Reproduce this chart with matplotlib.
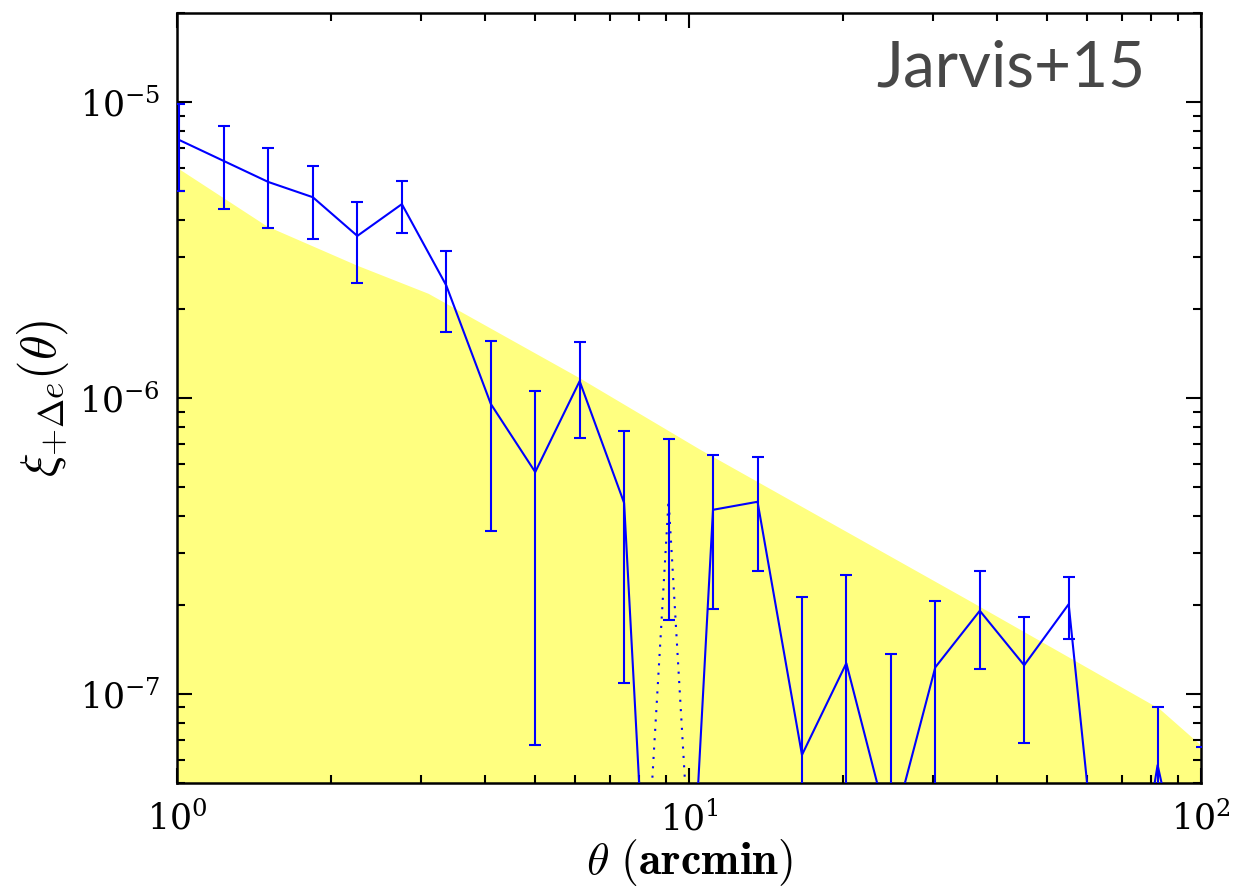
import numpy as np
import matplotlib
matplotlib.use("Agg")
import matplotlib.pyplot as plt

plt.rcParams['mathtext.fontset'] = 'cm'
plt.rcParams['font.family'] = ['DejaVu Serif']

# ---- data ----
theta = [1.011, 1.235, 1.508, 1.842, 2.250, 2.749, 3.357, 4.101, 5.008, 6.115,
         7.469, 9.123, 11.14, 13.61, 16.62, 20.29, 24.79, 30.27, 36.98, 45.15,
         55.15, 67.36, 82.27, 100.5]
xi_plus = [7.44e-6, 6.32e-6, 5.37e-6, 4.77e-6, 3.53e-6, 4.52e-6, 2.40e-6, 9.55e-7,
           5.62e-7, 1.14e-6, 4.42e-7, -4.52e-7, 4.19e-7, 4.46e-7, 6.22e-8, 1.27e-7,
           3.3e-8, 1.23e-7, 1.91e-7, 1.25e-7, 2.01e-7, 7e-9, 5.75e-8, 1.2e-8]
sigma = [2.42e-6, 1.97e-6, 1.63e-6, 1.33e-6, 1.08e-6, 0.90e-6, 0.73e-6, 0.60e-6,
         0.495e-6, 0.405e-6, 3.33e-7, 2.74e-7, 2.25e-7, 1.85e-7, 1.5e-7, 1.25e-7,
         1.03e-7, 0.83e-7, 0.70e-7, 0.57e-7, 0.48e-7, 3e-8, 3.25e-8, 5.4e-8]

# requirement region (yellow)
req_theta = [1.0, 1.5, 2.25, 3.1, 6.1, 10.5, 35.0, 83.0, 100.0]
req_xi = [6.0e-6, 3.8e-6, 2.8e-6, 2.25e-6, 1.17e-6, 6.7e-7, 2.08e-7, 8.9e-8, 6.7e-8]

label_text = "Jarvis+15"

# ---- plotting ----
theta_a = np.array(theta)
xi_a = np.array(xi_plus)
sig_a = np.array(sigma)

solid = np.where(xi_a > 0, xi_a, 7e-10)
dotted = np.where(xi_a < 0, -xi_a, 1.2e-9)

fig = plt.figure(figsize=(12.33, 8.89), dpi=100)
ax = fig.add_axes([177/1233, 1-783/889, (1201-177)/1233, (783-13)/889])
ax.set_xscale('log')
ax.set_yscale('log')

ax.fill_between(req_theta, 1e-10, req_xi, color=(1.0, 1.0, 0.5), linewidth=0, zorder=1)

ax.errorbar(theta_a, np.abs(xi_a), yerr=sig_a, fmt='none', ecolor='b',
            elinewidth=1.5, capsize=4.5, capthick=1.5, zorder=3)
ax.plot(theta_a, solid, color='b', lw=1.5, zorder=4)
ax.plot(theta_a, dotted, color='b', lw=1.5, linestyle=(0, (1, 3.5)), zorder=4)

ax.set_xlim(1, 100)
ax.set_ylim(5e-8, 2e-5)

for s in ax.spines.values():
    s.set_linewidth(1.8)

ax.tick_params(which='both', direction='in', top=True, right=True, width=1.5)
ax.tick_params(which='major', length=11, labelsize=25, pad=12)
ax.tick_params(which='minor', length=6)
ax.tick_params(axis='x', which='major', pad=13)

ax.set_xlabel(r'$\theta\ \mathbf{(arcmin)}$', fontsize=33, labelpad=0)
ax.set_ylabel(r'$\xi_{+\Delta e}(\theta)$', fontsize=36, labelpad=6)

ax.text(0.946, 0.905, label_text, transform=ax.transAxes, ha='right', va='baseline',
        fontsize=46, color='#474747', family=['Lato', 'DejaVu Sans'], fontweight='normal')

fig.savefig('out.png', dpi=100)
